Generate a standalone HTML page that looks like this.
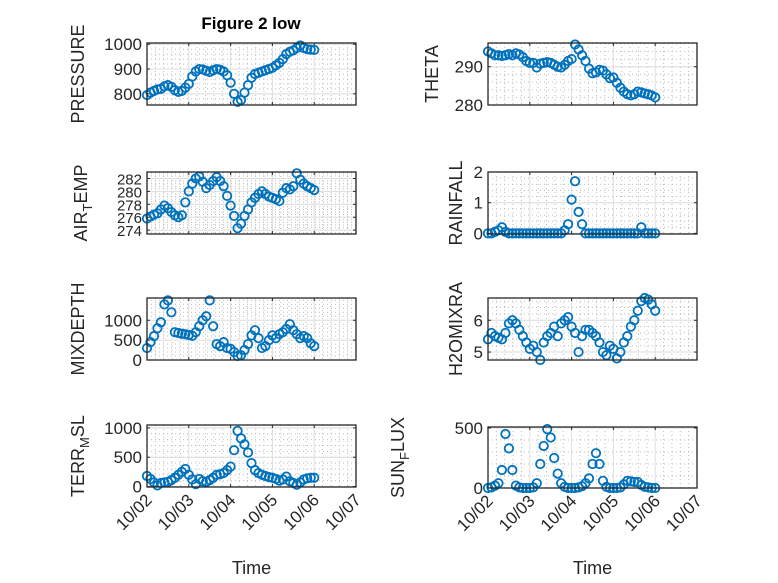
<!DOCTYPE html>
<html><head><meta charset="utf-8"><style>
html,body{margin:0;padding:0;background:#fff}
svg{display:block;font-family:"Liberation Sans","DejaVu Sans",sans-serif}
</style></head><body>
<svg id="fig" width="778" height="583" viewBox="0 0 778 583">
<rect width="778" height="583" fill="#fff"/>
<text x="251" y="29" text-anchor="middle" font-size="17" font-weight="bold" fill="#000">Figure 2 low</text>
</svg>
<script>
// time in days since 10/02 00:00, 2-hour steps
const times = [0,0.083,0.167,0.25,0.333,0.417,0.5,0.583,0.667,0.75,0.833,0.917,1.0,1.083,1.167,1.25,1.333,1.417,1.5,1.583,1.667,1.75,1.833,1.917,2.0,2.083,2.167,2.25,2.333,2.417,2.5,2.583,2.667,2.75,2.833,2.917,3.0,3.083,3.167,3.25,3.333,3.417,3.5,3.583,3.667,3.75,3.833,3.917,4.0];
const xTickLabels = ["10/02","10/03","10/04","10/05","10/06","10/07"];
const pressure = [795,805,812,818,820,830,835,828,815,808,812,825,840,870,890,900,898,893,888,895,900,897,890,875,845,800,768,775,805,835,865,880,885,890,895,900,905,915,925,940,960,970,975,985,995,985,980,978,977];
const theta = [294,293.5,293,293,292.8,293,293.3,293,293.5,293.2,292.5,291.5,291,291,289.8,290.8,291,291.2,291,290.5,290,289.8,290.5,291.5,292,295.8,294.5,293,291.5,289.5,288.3,288.5,289.2,289,288,287,287.2,285.8,284.5,283.5,282.8,282.5,282.8,283.5,283.3,283,282.8,282.5,282];
const airTemp = [275.8,276.1,276.4,276.6,277.2,277.8,277.4,276.8,276.3,276.0,276.3,278.3,280,281.2,282,282.3,281.5,280.5,281,281.6,282.2,281.6,280.8,279.3,277.8,276.2,274.3,275,276.2,277.2,278.3,279,279.6,280,279.6,279.2,279,278.8,278.5,279.8,280.5,280.3,280.8,282.8,281.8,281.2,280.8,280.5,280.2];
const rainfall = [0,0,0.05,0.1,0.2,0.05,0,0,0,0,0,0,0,0,0,0,0,0,0,0,0,0,0.1,0.3,1.1,1.7,0.7,0.3,0,0,0,0,0,0,0,0,0,0,0,0,0,0,0,0,0.2,0,0,0,0];
const mixDepth = [300,450,600,800,950,1400,1500,1200,700,680,660,650,630,610,700,850,1000,1100,1500,850,400,350,450,300,280,200,100,120,250,400,620,750,550,300,350,500,620,550,650,700,780,900,750,650,550,600,550,420,350];
const h2oMix = [5.4,5.6,5.5,5.45,5.4,5.6,5.9,6.0,5.9,5.7,5.5,5.3,5.1,5.2,5.0,4.75,5.3,5.5,5.6,5.8,5.5,5.9,6.0,6.1,5.8,5.6,5.0,5.5,5.7,5.7,5.6,5.5,5.3,5.0,4.9,5.2,5.1,4.8,5.0,5.3,5.5,5.8,6.0,6.3,6.6,6.7,6.65,6.5,6.3];
const terrMsl = [180,130,70,20,60,70,80,110,150,200,250,300,200,120,40,130,90,80,110,150,200,210,230,280,340,620,950,820,720,580,400,280,230,200,180,160,150,130,100,120,170,90,60,30,70,120,140,150,150];
const sunFlux = [0,5,20,40,150,450,330,150,20,5,0,0,0,5,40,200,350,490,420,250,120,40,10,0,0,0,5,15,40,80,200,290,200,60,10,0,0,0,5,30,60,55,50,50,25,10,5,0,0];
const pressureTicks = [800,900,1000];
const thetaTicks = [280,290];
const airTicks = [274,276,278,280,282];
const rainTicks = [0,1,2];
const mixTicks = [0,500,1000];
const h2oTicks = [5,6];
const terrTicks = [0,500,1000];
const sunTicks = [0,500];

const NS="http://www.w3.org/2000/svg";
const svg=document.getElementById('fig');
function mk(tag,attrs,parent){const e=document.createElementNS(NS,tag);for(const k in attrs)e.setAttribute(k,attrs[k]);(parent||svg).appendChild(e);return e;}

const panels=[
 {name:'pressure',x:147,y:43,ymin:755,ymax:1005,vals:pressure,ticks:pressureTicks,label:['PRESSURE'],lx:84,xl:false,fs:17},
 {name:'theta',x:488,y:43,ymin:280,ymax:296.2,vals:theta,ticks:thetaTicks,label:['THETA'],lx:438,xl:false,fs:17},
 {name:'air-temp',x:147,y:172,ymin:273.4,ymax:283,vals:airTemp,ticks:airTicks,label:['AIR','T','EMP'],lx:87,xl:false,fs:15},
 {name:'rainfall',x:488,y:172,ymin:-0.02,ymax:2,vals:rainfall,ticks:rainTicks,label:['RAINFALL'],lx:462,xl:false,fs:17},
 {name:'mixdepth',x:147,y:298,ymin:0,ymax:1560,vals:mixDepth,ticks:mixTicks,label:['MIXDEPTH'],lx:84,xl:false,fs:17},
 {name:'h2omixra',x:488,y:298,ymin:4.75,ymax:6.7,vals:h2oMix,ticks:h2oTicks,label:['H2OMIXRA'],lx:462,xl:false,fs:17},
 {name:'terr-msl',x:147,y:425,ymin:-8,ymax:1050,vals:terrMsl,ticks:terrTicks,label:['TERR','M','SL'],lx:84,xl:true,fs:17},
 {name:'sun-flux',x:488,y:427,ymin:0,ymax:508,vals:sunFlux,ticks:sunTicks,label:['SUN','F','LUX'],lx:404,xl:true,fs:17}
];
const W=209;
panels.forEach(p=>{
 const H=(p.name==='sun-flux')?61:62;
 const g=mk('g',{});
 
 
 const xs=t=>p.x+t/5*W;
 const ys=v=>p.y+H-(v-p.ymin)/(p.ymax-p.ymin)*H;
 mk('rect',{x:p.x,y:p.y,width:W,height:H,fill:'#fff'},g);
 for(let i=0;i<=25;i++){if(i%5===0)continue;const X=xs(i*0.2);mk('line',{x1:X,x2:X,y1:p.y,y2:p.y+H,stroke:'#bdbdbd','stroke-width':1,'stroke-dasharray':'1,3'},g);}
 const st=p.ticks[1]-p.ticks[0];const ms=st/5;
 for(let v=p.ticks[0]-st;v<=p.ymax;v+=ms){if(v<p.ymin)continue;const Y=ys(v);if(Y<p.y||Y>p.y+H)continue;mk('line',{x1:p.x,x2:p.x+W,y1:Y,y2:Y,stroke:'#bdbdbd','stroke-width':1,'stroke-dasharray':'1,3'},g);}
 for(let i=1;i<5;i++){const X=xs(i);mk('line',{x1:X,x2:X,y1:p.y,y2:p.y+H,stroke:'#dedede','stroke-width':1},g);}
 p.ticks.forEach(v=>{const Y=ys(v);mk('line',{x1:p.x,x2:p.x+W,y1:Y,y2:Y,stroke:'#dedede','stroke-width':1},g);
   mk('line',{x1:p.x,x2:p.x+3,y1:Y,y2:Y,stroke:'#262626'},g);mk('line',{x1:p.x+W-3,x2:p.x+W,y1:Y,y2:Y,stroke:'#262626'},g);
   const t=mk('text',{x:p.x-5,y:Y+6,'text-anchor':'end','font-size':p.fs,fill:'#262626'},g);t.textContent=v;
   
   });
 for(let i=0;i<=5;i++){const X=xs(i);mk('line',{x1:X,x2:X,y1:p.y+H-3,y2:p.y+H,stroke:'#262626'},g);mk('line',{x1:X,x2:X,y1:p.y,y2:p.y+3,stroke:'#262626'},g);
   if(p.xl){const tx=mk('text',{x:0,y:0,'text-anchor':'end','font-size':17,fill:'#262626',transform:`translate(${X+6},${p.y+H+14}) rotate(-45)`},g);tx.textContent=xTickLabels[i];
     
     }}
 p.vals.forEach((v,i)=>{const c=mk('circle',{cx:xs(times[i]),cy:ys(v),r:4.2,fill:'none',stroke:'#0072bd','stroke-width':1.8},g);
   
   });
 mk('rect',{x:p.x,y:p.y,width:W,height:H,fill:'none',stroke:'#262626','stroke-width':1.3},g);
 const cy=p.y+H/2;
 const yl=mk('text',{x:0,y:0,'text-anchor':'middle','font-size':18,fill:'#262626',transform:`translate(${p.lx},${cy}) rotate(-90)`},g);
 
 
 if(p.label.length===1){yl.textContent=p.label[0];}
 else{const a=mk('tspan',{},yl);a.textContent=p.label[0];const b=mk('tspan',{dy:5,'font-size':13},yl);b.textContent=p.label[1];const c=mk('tspan',{dy:-5},yl);c.textContent=p.label[2];}
 if(p.xl){const xl=mk('text',{x:p.x+W/2,y:574,'text-anchor':'middle','font-size':18,fill:'#262626'},g);xl.textContent='Time';
   
   }
});
</script>
</body></html>
